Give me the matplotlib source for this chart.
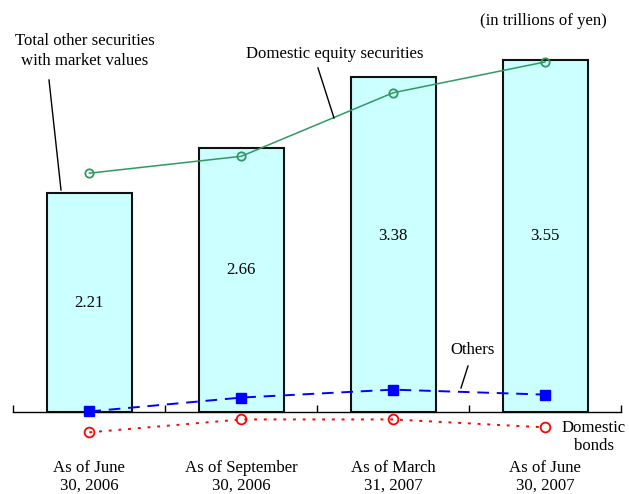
import matplotlib
matplotlib.use("Agg")
import matplotlib.pyplot as plt
import numpy as np

plt.rcParams['font.family'] = ['Liberation Serif', 'DejaVu Serif']

categories = ["As of June\n30, 2006", "As of September\n30, 2006",
              "As of March\n31, 2007", "As of June\n30, 2007"]
total_other = [2.21, 2.66, 3.38, 3.55]
domestic_equity = [2.41, 2.58, 3.22, 3.53]
others = [0.01, 0.15, 0.23, 0.18]
domestic_bonds = [-0.20, -0.07, -0.07, -0.15]
# where the value labels sit inside the bars (in trillions of yen)
label_y = [1.10, 1.43, 1.78, 1.78]

FS = 12.1
W, H = 629, 494
fig = plt.figure(figsize=(W / 100, H / 100), dpi=100)
ax = fig.add_axes([13.4 / W, 0, 607.6 / W, 1])
ax.set_xlim(-0.5, 3.5)
ax.set_ylim(-0.821, 4.154)

x = np.arange(len(categories))
ax.bar(x, total_other, width=0.56, color='#ccffff', edgecolor='#111111',
       linewidth=1.5, zorder=2)
for xi, v, ly in zip(x, total_other, label_y):
    ax.text(xi, ly, f"{v:.2f}", ha='center', va='center', fontsize=FS, zorder=5)

ax.plot(x, domestic_equity, color='#2e9a62', lw=1.1, marker='o', ms=6,
        mfc='none', mec='#2e9a62', mew=1.3, zorder=4)
ax.plot(x, others, color='#0000ff', lw=1.4, ls=(0, (6, 4)), marker='s', ms=6.5,
        mfc='#0000ff', mec='#0000ff', zorder=4)
ax.plot(x, domestic_bonds, color='#ff0000', lw=1.4, ls=(0, (1.5, 3.5)), marker='o',
        ms=7, mfc='none', mec='#ff0000', mew=1.3, zorder=4)

# axis: only the zero line with inward ticks
for s in ['top', 'right', 'left']:
    ax.spines[s].set_visible(False)
ax.spines['bottom'].set_position(('data', 0))
ax.spines['bottom'].set_linewidth(1.0)
ax.spines['bottom'].set_zorder(3)
ax.set_yticks([])
ax.set_xticks(np.arange(-0.5, 4.0, 1.0))
ax.set_xticklabels([])
ax.tick_params(axis='x', direction='in', length=5, width=1.0)
for xi, c in zip(x, categories):
    ax.text(xi, -0.648, c, ha='center', va='center', fontsize=FS, linespacing=1.2)


def fp(px, py):
    return (px / W, 1 - py / H)


fig.text(*fp(543, 21), "(in trillions of yen)", ha='center', va='center', fontsize=FS)
fig.text(*fp(84.5, 51), "Total other securities\nwith market values", ha='center',
         va='center', fontsize=FS, linespacing=1.3)
fig.text(*fp(335, 54), "Domestic equity securities", ha='center', va='center', fontsize=FS)
fig.text(*fp(473, 350), "Others", ha='center', va='center', fontsize=FS)
fig.text(*fp(594, 437), "Domestic\nbonds", ha='center', va='center', fontsize=FS,
         linespacing=1.2)

leaders = [((49, 80), (61, 190)), ((318, 68), (334, 118)), ((468, 366), (461, 388))]
for (x0, y0), (x1, y1) in leaders:
    fig.add_artist(plt.Line2D([x0 / W, x1 / W], [1 - y0 / H, 1 - y1 / H],
                              color='black', lw=1.0, transform=fig.transFigure))

fig.savefig("out.png", dpi=100)
